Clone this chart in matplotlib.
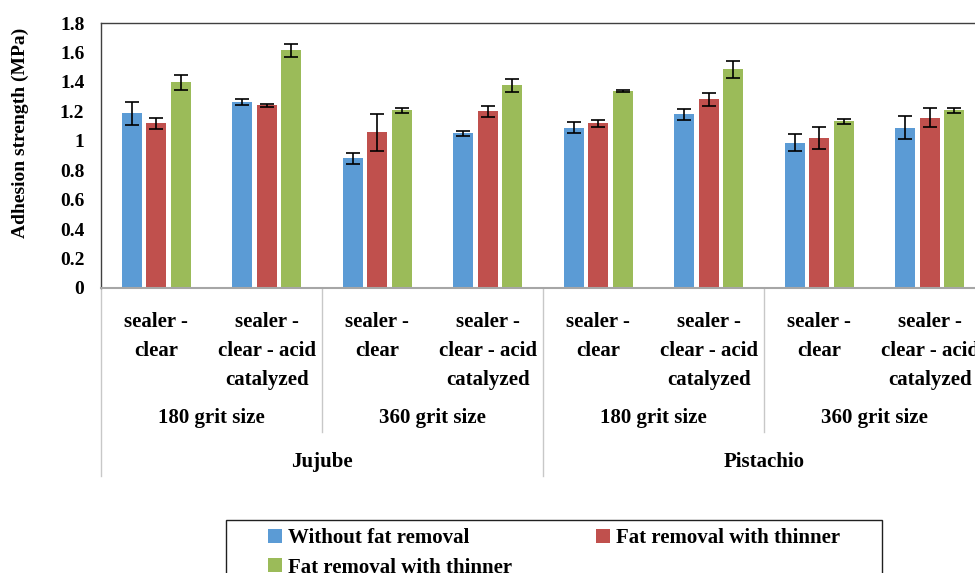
import matplotlib
matplotlib.use("Agg")
import matplotlib.pyplot as plt
import matplotlib.patches as mpatches
from matplotlib.transforms import blended_transform_factory
import numpy as np

# ---- data ----
categories = ["sealer -\nclear", "sealer -\nclear - acid\ncatalyzed"] * 4
grit_labels = ["180 grit size", "360 grit size", "180 grit size", "360 grit size"]
species_labels = ["Jujube", "Pistachio"]
series_names = ["Without fat removal", "Fat removal with thinner", "Fat removal with thinner"]

without_fat = [1.186, 1.261, 0.880, 1.050, 1.090, 1.179, 0.988, 1.090]
without_err = [0.080, 0.020, 0.040, 0.017, 0.035, 0.040, 0.060, 0.080]
thinner1 = [1.118, 1.240, 1.057, 1.199, 1.118, 1.281, 1.016, 1.158]
thinner1_err = [0.035, 0.012, 0.126, 0.040, 0.022, 0.045, 0.075, 0.065]
thinner2 = [1.397, 1.614, 1.206, 1.376, 1.335, 1.485, 1.131, 1.206]
thinner2_err = [0.050, 0.042, 0.017, 0.043, 0.007, 0.057, 0.015, 0.017]

yticks = [0, 0.2, 0.4, 0.6, 0.8, 1, 1.2, 1.4, 1.6, 1.8]
ytick_labels = ["0", "0.2", "0.4", "0.6", "0.8", "1", "1.2", "1.4", "1.6", "1.8"]

colors = ["#5B9BD5", "#C0504D", "#9BBB59"]

# ---- figure ----
W, H = 975, 573
plt.rcParams['font.family'] = ['Liberation Serif', 'DejaVu Serif']
plt.rcParams['font.weight'] = 'bold'
FS = 14     # y axis
FSX = 15    # category texts & legend

fig = plt.figure(figsize=(W / 100, H / 100), dpi=100)
ax = fig.add_axes([101 / W, 1 - 288 / H, 884 / W, 265 / H])

x = np.arange(len(categories)) + 0.5
width = 0.18
offsets = [-0.22, 0.0, 0.22]
data = [(without_fat, without_err), (thinner1, thinner1_err), (thinner2, thinner2_err)]
handles = []
for (vals, errs), off, c, name in zip(data, offsets, colors, series_names):
    b = ax.bar(x + off, vals, width, color=c, label=name, zorder=2)
    ax.errorbar(x + off, vals, yerr=errs, fmt='none', ecolor='black',
                elinewidth=1.2, capsize=5, capthick=1.2, zorder=3)
    handles.append(b)

ax.set_xlim(0, len(categories))
ax.set_ylim(0, 1.8)
ax.set_yticks(yticks)
ax.set_yticklabels(ytick_labels, fontsize=FS, fontweight='bold')
ax.tick_params(axis='y', length=0, pad=12)
ax.set_xticks([])

for s in ['left', 'top']:
    ax.spines[s].set_color('#404040')
    ax.spines[s].set_linewidth(1.0)
ax.spines['right'].set_visible(False)
ax.spines['bottom'].set_color('#a6a6a6')
ax.spines['bottom'].set_linewidth(1.5)

trans = blended_transform_factory(ax.transData, fig.transFigure)

def fy(py):
    return 1 - py / H

# category labels
for xi, lab in zip(x, categories):
    ax.text(xi, fy(312), lab, transform=trans, ha='center', va='top',
            fontsize=FSX, fontweight='bold', linespacing=1.6)

# grit labels
for i, lab in enumerate(grit_labels):
    ax.text(2 * i + 1, fy(418), lab, transform=trans, ha='center', va='center',
            fontsize=FSX, fontweight='bold')

# species labels
for i, lab in enumerate(species_labels):
    ax.text(4 * i + 2, fy(462), lab, transform=trans, ha='center', va='center',
            fontsize=FSX, fontweight='bold')

# divider lines
div_col = '#c8c8c8'
for xv in [0, 4, 8]:
    ax.plot([xv, xv], [fy(288), fy(476)], transform=trans, color=div_col,
            lw=1.0, clip_on=False)
for xv in [2, 6]:
    ax.plot([xv, xv], [fy(288), fy(432)], transform=trans, color=div_col,
            lw=1.0, clip_on=False)

# y label
fig.text(20 / W, fy(133), "Adhesion strength (MPa)", rotation=90,
         ha='center', va='center', fontsize=FS, fontweight='bold')

# legend (row-wise order like the original)
order = [0, 2, 1]
fig.canvas.draw()
renderer = fig.canvas.get_renderer()
tmp = fig.text(0, 0, series_names[1], fontsize=FSX, fontweight='bold')
wtxt = tmp.get_window_extent(renderer).width
tmp.remove()
em = FSX * 100 / 72
col_gap_px = (596 - 268) - (0.68 * em + 0.28 * em + wtxt)
leg = fig.legend([handles[i] for i in order], [series_names[i] for i in order],
                 ncol=2, loc='upper left', bbox_to_anchor=(268 / W, fy(528)),
                 frameon=False, borderpad=0, borderaxespad=0,
                 handlelength=0.68, handleheight=0.68, handletextpad=0.28,
                 labelspacing=0.46, columnspacing=col_gap_px / em,
                 prop={'family': 'Liberation Serif', 'weight': 'bold', 'size': FSX})

frame = mpatches.Rectangle((226 / W, fy(600)), (882 - 226) / W, (600 - 520) / H,
                           transform=fig.transFigure, fill=False,
                           edgecolor='#202020', lw=1.0)
fig.patches.append(frame)

fig.savefig("out.png", dpi=100)
